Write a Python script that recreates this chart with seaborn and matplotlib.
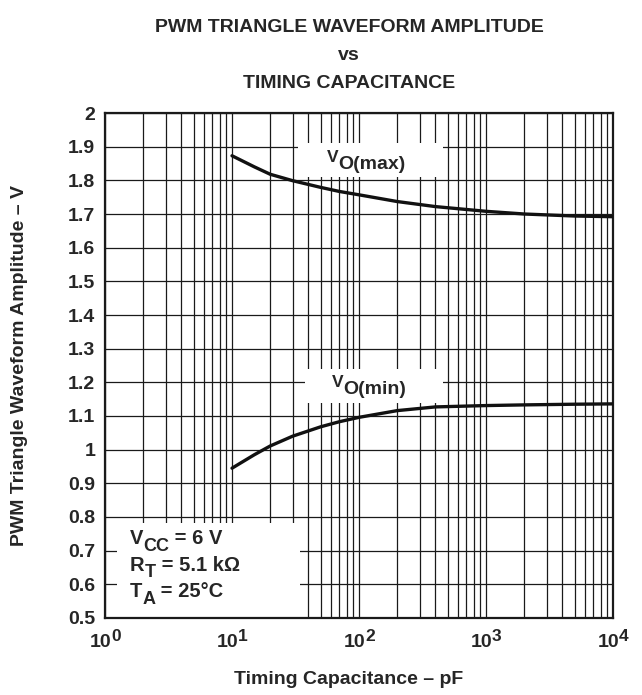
import pandas as pd
import matplotlib
matplotlib.use('Agg')
import matplotlib.pyplot as plt
import seaborn as sns
from matplotlib.patches import Rectangle
from matplotlib.ticker import LogLocator, NullFormatter

# readings
cap_pf = [10, 15, 20, 30, 50, 70, 100, 200, 400, 1000, 2000, 5000, 10000]
vo_max = [1.873, 1.840, 1.818, 1.799, 1.779, 1.767, 1.757, 1.737, 1.722, 1.708, 1.700, 1.694, 1.692]
vo_min = [0.945, 0.985, 1.011, 1.040, 1.068, 1.083, 1.096, 1.116, 1.127, 1.131, 1.133, 1.135, 1.136]

x_ticks = [1, 10, 100, 1000, 10000]
x_exps = ['0', '1', '2', '3', '4']
y_ticks = [0.5, 0.6, 0.7, 0.8, 0.9, 1.0, 1.1, 1.2, 1.3, 1.4, 1.5, 1.6, 1.7, 1.8, 1.9, 2.0]
y_labels = ['0.5', '0.6', '0.7', '0.8', '0.9', '1', '1.1', '1.2', '1.3', '1.4',
            '1.5', '1.6', '1.7', '1.8', '1.9', '2']

df = pd.DataFrame({'cap': cap_pf, 'vo_max': vo_max, 'vo_min': vo_min})

sns.set_style('white')
plt.rcParams['font.family'] = ['Liberation Sans', 'DejaVu Sans']
plt.rcParams['font.weight'] = 'bold'

fig = plt.figure(figsize=(6.42, 6.95), dpi=100)
ax = fig.add_axes([0.1636, 0.1108, 0.7912, 0.7266])
ax.set_xscale('log')
ax.set_xlim(1, 10000)
ax.set_ylim(0.5, 2.0)
ax.set_axisbelow(True)

ax.xaxis.set_minor_locator(LogLocator(base=10, subs=range(2, 10)))
ax.xaxis.set_minor_formatter(NullFormatter())
ax.set_xticks(x_ticks)
ax.set_xticklabels([''] * len(x_ticks))
ax.set_yticks(y_ticks)
ax.set_yticklabels(y_labels)
ax.grid(True, which='both', axis='x', color='#1a1a1a', lw=0.9)
ax.grid(True, which='major', axis='y', color='#1a1a1a', lw=0.9)
ax.tick_params(axis='both', which='both', direction='in', length=5, width=0.9,
               color='#1a1a1a', labelsize=14)
ax.tick_params(axis='y', pad=7)
for s in ax.spines.values():
    s.set_linewidth(1.6)
    s.set_color('#1a1a1a')

renderer = fig.canvas.get_renderer()


def rich_text(x, y, pieces, coords='data', center=False):
    # pieces: (text, size, vertical shift in points); drawn one after another
    arts = []
    off = 0.0
    for s, size, dy in pieces:
        t = ax.annotate(s, xy=(x, y), xycoords=coords, xytext=(off, dy),
                        textcoords='offset points', fontsize=size, fontweight='bold',
                        ha='left', va='baseline', zorder=4, annotation_clip=False)
        off += t.get_window_extent(renderer).width * 72 / fig.dpi
        arts.append(t)
    if center:
        for t in arts:
            ox, oy = t.xyann
            t.xyann = (ox - off / 2, oy)


# white patches behind the labels, as in the datasheet
for (x0, x1, y0, y1) in [(33, 457, 1.81, 1.91), (37.6, 457, 1.14, 1.24), (1.24, 34.3, 0.5, 0.782)]:
    ax.add_patch(Rectangle((x0, y0), x1 - x0, y1 - y0, facecolor='white',
                           edgecolor='none', zorder=1))

sns.lineplot(data=df, x='cap', y='vo_max', color='#111111', lw=2.4, ax=ax, zorder=3)
sns.lineplot(data=df, x='cap', y='vo_min', color='#111111', lw=2.4, ax=ax, zorder=3)
ax.set_xlabel('')
ax.set_ylabel('')

# x tick labels: 10 with a raised exponent
for xv, e in zip(x_ticks, x_exps):
    rich_text(xv, -0.0574, [('10', 14, 0), (e, 12.5, 4.5)],
              coords=ax.get_xaxis_transform(), center=True)

rich_text(56, 1.833, [('V', 12.5, 5), ('O(max)', 14, 0)])
rich_text(61, 1.165, [('V', 12.5, 5), ('O(min)', 14, 0)])
rich_text(1.574, 0.719, [('V', 14.5, 0), ('CC', 13, -4.5), (' = 6 V', 14.5, 0)])
rich_text(1.574, 0.640, [('R', 14.5, 0), ('T', 13, -4.5), (' = 5.1 kΩ', 14.5, 0)])
rich_text(1.574, 0.561, [('T', 14.5, 0), ('A', 13, -4.5), (' = 25°C', 14.5, 0)])

fig.text(349 / 642, 1 - 27 / 695, 'PWM TRIANGLE WAVEFORM AMPLITUDE', ha='center', va='center',
         fontsize=14, fontweight='bold')
fig.text(349 / 642, 1 - 55 / 695, 'vs', ha='center', va='center', fontsize=14, fontweight='bold')
fig.text(349 / 642, 1 - 83 / 695, 'TIMING CAPACITANCE', ha='center', va='center',
         fontsize=14, fontweight='bold')
fig.text(349 / 642, 1 - 680 / 695, 'Timing Capacitance – pF', ha='center', va='center',
         fontsize=14, fontweight='bold')
fig.text(20 / 642, 1 - 365 / 695, 'PWM Triangle Waveform Amplitude – V', ha='center', va='center',
         rotation=90, fontsize=14, fontweight='bold')

fig.savefig('out.png', dpi=100)
